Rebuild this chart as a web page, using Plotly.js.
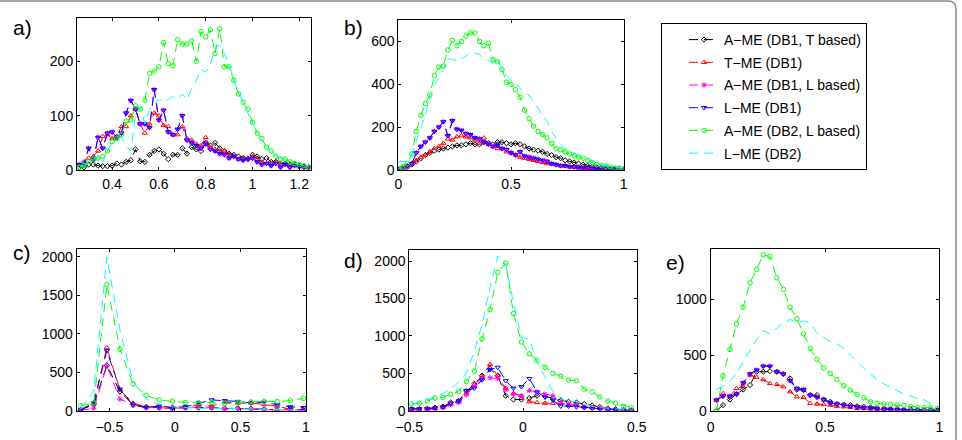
<!DOCTYPE html>
<html>
<head>
<meta charset="utf-8">
<script src="https://cdn.plot.ly/plotly-3.0.1.min.js"></script>
<style>
  html, body { margin: 0; padding: 0; background: #fff; }
  #chart { width: 962px; height: 440px; }
</style>
</head>
<body>
<div id="chart"></div>
<script>
// ---- series names (legend order) ----
const seriesNames = [
  'A\u2212ME (DB1, T based)',
  'T\u2212ME (DB1)',
  'A\u2212ME (DB1, L based)',
  'L\u2212ME (DB1)',
  'A\u2212ME (DB2, L based)',
  'L\u2212ME (DB2)'
];

// ---- panel a ----
const aX = [0.26,0.28,0.30,0.32,0.34,0.36,0.38,0.40,0.42,0.44,0.46,0.48,0.50,0.52,0.54,0.56,0.58,0.60,0.62,0.64,0.66,0.68,0.70,0.72,0.74,0.76,0.78,0.80,0.82,0.84,0.86,0.88,0.90,0.92,0.94,0.96,0.98,1.00,1.02,1.04,1.06,1.08,1.10,1.12,1.14,1.16,1.18,1.20,1.22,1.24];
const aBlack = [5,5,10,10,8,7,7,8,12,10,15,18,38,16,15,28,35,38,30,20,28,28,40,30,42,38,35,50,45,50,40,35,30,28,25,22,20,28,25,20,22,15,15,12,12,10,10,8,6,5];
const aRed = [8,15,22,25,35,62,65,58,62,80,80,100,112,85,68,85,105,100,82,80,65,65,80,58,55,48,45,60,42,38,35,35,30,25,20,22,22,25,20,15,12,12,15,10,10,8,10,8,6,5];
const aMagenta = [10,12,40,18,60,40,68,70,60,68,105,128,112,85,85,78,148,92,110,70,65,75,100,55,50,45,40,48,38,35,30,28,22,25,20,18,20,22,15,10,12,8,12,5,10,5,8,6,5,5];
const aBlue = [10,12,40,18,60,40,68,70,60,68,105,128,112,85,85,78,148,92,110,70,65,75,100,55,50,45,40,48,38,35,30,28,22,25,20,18,20,22,15,10,12,8,12,5,10,5,8,6,5,5];
const aGreen = [5,8,15,20,22,25,35,52,58,65,90,92,118,112,128,178,182,190,235,196,192,240,232,232,238,200,255,245,258,215,260,190,190,165,140,125,112,88,68,58,42,35,25,20,20,15,12,10,8,5];
const aCyan = [15,12,10,20,28,15,35,50,55,60,45,35,100,115,85,110,120,130,125,130,135,130,140,130,150,165,185,180,195,225,230,215,195,165,145,125,105,85,70,55,40,35,28,22,18,15,12,10,8,6];

// ---- panel b ----
const bX = [0,0.02,0.04,0.06,0.08,0.10,0.12,0.14,0.16,0.18,0.20,0.22,0.24,0.26,0.28,0.30,0.32,0.34,0.36,0.38,0.40,0.42,0.44,0.46,0.48,0.50,0.52,0.54,0.56,0.58,0.60,0.62,0.64,0.66,0.68,0.70,0.72,0.74,0.76,0.78,0.80,0.82,0.84,0.86,0.88,0.90,0.92,0.94,0.96,0.98,1.00];
const bBlack = [2,5,15,25,40,55,70,80,90,95,100,105,110,115,115,120,125,120,120,130,125,120,130,130,125,120,125,120,110,100,95,90,85,75,70,60,55,45,40,35,30,25,20,15,12,10,8,6,5,4,3];
const bRed = [3,8,15,30,45,60,70,85,100,110,125,145,140,155,160,155,150,140,125,150,120,110,100,100,85,80,70,60,55,50,45,40,35,30,28,25,20,18,15,12,10,10,8,8,6,5,4,4,3,3,2];
const bMagenta = [5,10,20,30,80,110,130,150,180,200,225,160,230,190,185,170,165,150,145,130,120,110,115,100,95,80,70,85,65,60,55,50,45,40,30,25,20,20,15,15,12,10,10,8,8,6,5,5,4,3,2];
const bBlue = [5,10,20,30,80,110,130,150,180,200,225,160,230,190,185,170,165,150,145,130,120,110,115,100,95,80,70,85,65,60,55,50,45,40,30,25,20,20,15,15,12,10,10,8,8,6,5,5,4,3,2];
const bGreen = [5,15,30,75,180,255,310,350,440,480,485,560,605,580,600,625,640,640,600,580,590,515,505,470,410,400,375,340,280,240,205,180,165,150,125,100,95,85,75,65,60,55,45,35,25,22,18,15,10,8,5];
const bCyan = [40,40,40,70,130,200,260,330,400,430,470,520,515,510,520,530,550,545,540,520,510,500,520,470,440,420,410,380,360,350,320,290,250,230,180,150,120,100,90,80,70,60,50,40,30,25,20,18,15,12,10];

// ---- panel c ----
const cX = [-0.72,-0.62,-0.52,-0.42,-0.32,-0.22,-0.12,-0.02,0.08,0.18,0.28,0.38,0.48,0.58,0.68,0.78,0.88,0.98];
const cBlack = [10,80,590,250,80,50,40,30,40,40,40,30,30,25,20,10,30,10];
const cRed = [15,100,820,270,100,50,60,50,50,80,60,110,100,100,80,60,20,10];
const cMagenta = [5,30,580,150,80,40,40,30,40,50,40,20,30,20,10,10,5,5];
const cBlue = [10,100,780,280,70,40,60,40,50,100,140,130,120,100,110,80,50,40];
const cGreen = [60,100,1640,800,350,200,140,125,105,105,105,90,105,115,120,120,130,160];
const cCyan = [20,250,2000,1050,380,150,80,50,40,30,30,30,30,20,15,10,10,10];

// ---- panel d ----
const dX = [-0.490,-0.456,-0.421,-0.387,-0.352,-0.318,-0.283,-0.249,-0.214,-0.180,-0.145,-0.111,-0.076,-0.042,-0.007,0.028,0.062,0.097,0.131,0.166,0.200,0.235,0.269,0.304,0.338,0.373,0.407,0.442,0.476];
const dBlack = [20,20,25,40,55,110,130,260,360,470,560,470,200,150,150,170,200,190,170,140,120,110,90,70,50,30,20,10,5];
const dRed = [15,15,20,30,45,90,120,230,350,460,620,470,300,230,200,120,110,100,100,100,80,70,50,40,30,20,10,5,5];
const dMagenta = [10,10,15,25,40,80,110,210,330,430,440,430,280,220,200,270,250,220,200,100,90,80,50,40,30,20,10,5,5];
const dBlue = [25,25,30,35,50,100,130,270,300,410,550,580,400,300,320,430,250,180,140,60,60,50,40,30,20,15,10,5,5];
const dGreen = [90,100,130,170,180,220,260,390,530,960,1350,1850,1975,1300,920,760,670,580,500,460,410,400,290,250,185,130,100,60,40];
const dCyan = [80,110,150,190,230,290,380,500,800,1150,1650,2070,1950,1450,980,960,650,450,260,150,130,120,90,60,40,30,20,15,10];

// ---- panel e ----
const eX = [0.025,0.054,0.084,0.113,0.142,0.172,0.201,0.230,0.259,0.289,0.318,0.347,0.377,0.406,0.435,0.465,0.494,0.523,0.552,0.582,0.611,0.640,0.670,0.699,0.728,0.758,0.787,0.816,0.845,0.875,0.904,0.933,0.963,0.992];
const eBlack = [0,50,100,150,190,230,350,350,355,350,330,290,190,185,140,140,100,80,60,55,50,40,35,30,25,20,15,15,10,10,8,5,5,5];
const eRed = [95,155,130,200,215,320,300,280,245,236,215,170,125,120,65,60,55,50,40,35,30,20,20,15,10,10,8,5,5,5,3,3,3,3];
const eMagenta = [95,130,130,150,250,330,365,400,400,350,330,270,200,190,140,120,100,70,60,50,40,30,25,20,15,10,10,8,5,5,5,3,3,3];
const eBlue = [95,130,130,150,250,330,365,400,400,350,330,270,200,190,140,120,100,70,60,50,40,30,25,20,15,10,10,8,5,5,5,3,3,3];
const eGreen = [0,313,550,780,930,1150,1270,1400,1385,1195,1090,930,827,690,560,463,385,334,280,224,185,146,116,80,66,60,57,51,48,36,30,27,27,21];
const eCyan = [190,220,270,330,440,540,640,720,690,740,790,820,790,805,790,700,660,620,600,560,500,440,380,330,280,240,210,180,150,130,110,100,60,60];

// ---- per-series styling ----
const styles = [
  { color: '#000000', symbol: 'diamond-open',       size: 4,   mode: 'lines+markers' },
  { color: '#ff0000', symbol: 'triangle-up-open',   size: 4.5, mode: 'lines+markers' },
  { color: '#ff00ff', symbol: 'asterisk-open',      size: 4.5, mode: 'lines+markers' },
  { color: '#0000ff', symbol: 'triangle-down-open', size: 4.5, mode: 'lines+markers' },
  { color: '#00ff00', symbol: 'circle-open',        size: 4.5, mode: 'lines+markers' },
  { color: '#00ffff', symbol: 'circle',             size: 1,   mode: 'lines' }
];

const panels = [
  { x: aX, ys: [aBlack, aRed, aMagenta, aBlue, aGreen, aCyan], xa: 'x',  ya: 'y',  legend: true },
  { x: bX, ys: [bBlack, bRed, bMagenta, bBlue, bGreen, bCyan], xa: 'x2', ya: 'y2', legend: false },
  { x: cX, ys: [cBlack, cRed, cMagenta, cBlue, cGreen, cCyan], xa: 'x3', ya: 'y3', legend: false },
  { x: dX, ys: [dBlack, dRed, dMagenta, dBlue, dGreen, dCyan], xa: 'x4', ya: 'y4', legend: false },
  { x: eX, ys: [eBlack, eRed, eMagenta, eBlue, eGreen, eCyan], xa: 'x5', ya: 'y5', legend: false }
];

const traces = [];
panels.forEach(p => {
  p.ys.forEach((y, i) => {
    const s = styles[i];
    traces.push({
      type: 'scatter',
      x: p.x, y: y,
      xaxis: p.xa, yaxis: p.ya,
      name: seriesNames[i],
      legendgroup: 's' + i,
      showlegend: p.legend,
      mode: s.mode,
      line: { color: s.color, width: 1, dash: '9px,6px' },
      marker: { symbol: s.symbol, size: s.size, color: s.color, line: { color: s.color, width: 1 } },
      hoverinfo: 'x+y+name'
    });
  });
});

// ---- axes ----
const W = 962, H = 440;
const fx = px => px / W;
const fy = px => 1 - px / H;
const font = { family: 'Liberation Sans, Arial, Helvetica, sans-serif', size: 14, color: '#000' };

function axis(domain, range, tickvals, ticktext, anchor, standoff) {
  return {
    domain: domain, range: range, anchor: anchor,
    tickmode: 'array', tickvals: tickvals, ticktext: ticktext,
    showline: true, linecolor: '#000', linewidth: 1, mirror: 'ticks',
    ticks: 'inside', ticklen: 3, tickcolor: '#000', tickwidth: 1,
    ticklabelstandoff: standoff || 0,
    showgrid: false, zeroline: false, tickfont: font, fixedrange: true
  };
}

const layout = {
  width: W, height: H,
  margin: { l: 0, r: 0, t: 0, b: 0, pad: 0 },
  paper_bgcolor: '#fff', plot_bgcolor: '#fff',
  font: font,
  showlegend: true,
  legend: {
    x: fx(661), y: fy(23), xanchor: 'left', yanchor: 'top',
    bgcolor: '#fff', bordercolor: '#000', borderwidth: 1,
    font: { family: font.family, size: 14, color: '#000' },
    indentation: 22, tracegroupgap: 1.5, traceorder: 'grouped'
  },
  xaxis:  axis([fx(77), fx(311)],    [0.25, 1.25], [0.4,0.6,0.8,1,1.2], ['0.4','0.6','0.8','1','1.2'], 'y', 1),
  yaxis:  axis([fy(170), fy(18)],    [0, 280],     [0,100,200], ['0','100','200'], 'x'),
  xaxis2: axis([fx(398.3), fx(623.7)], [0, 1],     [0,0.5,1], ['0','0.5','1'], 'y2', 1),
  yaxis2: axis([fy(170), fy(20)],    [0, 700],     [0,200,400,600], ['0','200','400','600'], 'x2'),
  xaxis3: axis([fx(76.7), fx(306)],  [-0.75, 1],   [-0.5,0,0.5,1], ['\u22120.5','0','0.5','1'], 'y3', 3),
  yaxis3: axis([fy(410.7), fy(249.3)], [0, 2100],  [0,500,1000,1500,2000], ['0','500','1000','1500','2000'], 'x3'),
  xaxis4: axis([fx(409.3), fx(636.7)], [-0.5, 0.5], [-0.5,0,0.5], ['\u22120.5','0','0.5'], 'y4', 3),
  yaxis4: axis([fy(410.7), fy(250)], [0, 2150],    [0,500,1000,1500,2000], ['0','500','1000','1500','2000'], 'x4'),
  xaxis5: axis([fx(710.7), fx(939.3)], [0, 1],     [0,0.5,1], ['0','0.5','1'], 'y5', 3),
  yaxis5: axis([fy(410.7), fy(249.3)], [0, 1450],  [0,500,1000], ['0','500','1000'], 'x5'),
  annotations: [
    ['a)', 11, 27], ['b)', 342, 27], ['c)', 11, 253], ['d)', 342, 260], ['e)', 664, 262]
  ].map(([t, x, y]) => ({
    text: t, xref: 'paper', yref: 'paper', x: fx(x), y: fy(y),
    xanchor: 'left', yanchor: 'middle', showarrow: false,
    font: { family: font.family, size: 21, color: '#000' }
  })),
  shapes: [{
    // figure frame: top edge and rounded top-right corner
    type: 'path', xref: 'paper', yref: 'paper',
    path: `M ${fx(-5)},${fy(1)} L ${fx(948)},${fy(1)} Q ${fx(956)},${fy(1)} ${fx(956)},${fy(9)} L ${fx(956)},${fy(450)}`,
    line: { color: '#8a8a8a', width: 1.5 }
  }]
};

Plotly.newPlot('chart', traces, layout, { displayModeBar: false, staticPlot: true });
</script>
</body>
</html>
